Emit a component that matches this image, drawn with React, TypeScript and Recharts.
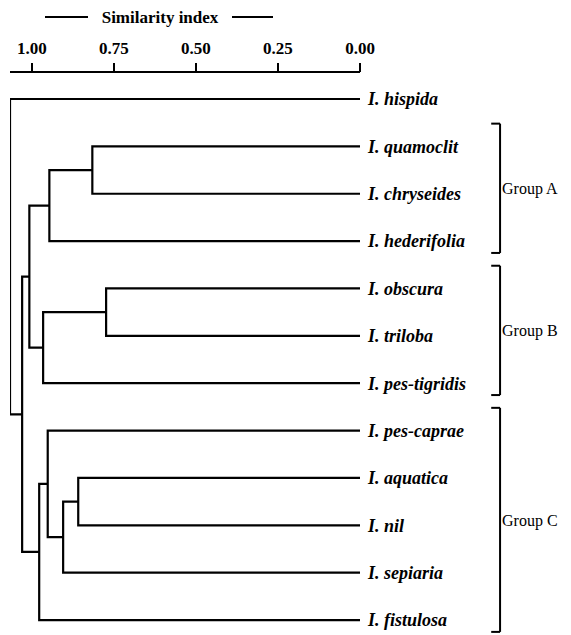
import { ScatterChart, Scatter, XAxis, YAxis, ReferenceLine } from 'recharts';

const leafNames = [
  'I. hispida',
  'I. quamoclit',
  'I. chryseides',
  'I. hederifolia',
  'I. obscura',
  'I. triloba',
  'I. pes-tigridis',
  'I. pes-caprae',
  'I. aquatica',
  'I. nil',
  'I. sepiaria',
  'I. fistulosa',
];

// linkage: ids below 12 are leaves, 12 + k is merge k
const mergeLeft = [1, 4, 8, 14, 12, 7, 13, 17, 16, 20, 0];
const mergeRight = [2, 5, 9, 10, 3, 15, 6, 11, 18, 19, 21];
const mergeSimilarity = [0.816, 0.774, 0.859, 0.905, 0.947, 0.952, 0.966, 0.978, 1.008, 1.03, 1.067];

const axisTicks = [1, 0.75, 0.5, 0.25, 0];

const groupNames = ['Group A', 'Group B', 'Group C'];
const groupFirstLeaf = [1, 4, 7];
const groupLastLeaf = [3, 6, 11];

const FONT = '"Liberation Serif", "Times New Roman", serif';
const INK = '#000';
const BRACKET_X = -0.427;
const SERIF_X = -0.4;

const nodeY: number[] = leafNames.map((_, i) => i);
const nodeH: number[] = leafNames.map(() => 0);
const links = mergeSimilarity.map((h, k) => {
  const a = mergeLeft[k];
  const b = mergeRight[k];
  nodeY.push((nodeY[a] + nodeY[b]) / 2);
  nodeH.push(h);
  return [
    { x: nodeH[a], y: nodeY[a] },
    { x: h, y: nodeY[a] },
    { x: h, y: nodeY[b] },
    { x: nodeH[b], y: nodeY[b] },
  ];
});

function SimilarityTitle() {
  return (
    <g>
      <line x1={45} x2={88} y1={17} y2={17} stroke={INK} strokeWidth={2} />
      <text x={160} y={23} textAnchor="middle" fontFamily={FONT} fontSize={17} fontWeight="bold" fill={INK}>
        Similarity index
      </text>
      <line x1={232} x2={273} y1={17} y2={17} stroke={INK} strokeWidth={2} />
    </g>
  );
}

export default function App() {
  return (
    <div style={{ position: 'absolute', left: 0, top: 0, background: '#fff' }}>
      <ScatterChart width={571} height={635} margin={{ top: 42, right: 71, left: 10, bottom: 5 }}>
        <XAxis
          type="number"
          dataKey="x"
          orientation="top"
          height={30}
          domain={[0, 1.067]}
          reversed
          allowDataOverflow
          ticks={axisTicks}
          interval={0}
          tickFormatter={(v: number) => v.toFixed(2)}
          tickSize={9}
          tickMargin={9}
          axisLine={{ stroke: INK, strokeWidth: 2 }}
          tickLine={{ stroke: INK, strokeWidth: 2 }}
          tick={{ fill: INK, fontSize: 17, fontWeight: 'bold', fontFamily: FONT }}
          label={<SimilarityTitle />}
        />
        <YAxis
          type="number"
          dataKey="y"
          orientation="right"
          width={140}
          domain={[-0.57, 11.21]}
          reversed
          allowDataOverflow
          ticks={leafNames.map((_, i) => i)}
          interval={0}
          tickFormatter={(i: number) => leafNames[i] ?? ''}
          tickSize={0}
          tickMargin={8}
          axisLine={false}
          tickLine={false}
          tick={{ fill: INK, fontSize: 18, fontWeight: 'bold', fontStyle: 'italic', fontFamily: FONT }}
        />
        {links.map((pts, k) => (
          <Scatter
            key={`link-${k}`}
            data={pts}
            line={{ stroke: INK, strokeWidth: 2.2 }}
            lineJointType="linear"
            shape={() => <g />}
            legendType="none"
            isAnimationActive={false}
          />
        ))}
        {groupNames.map((name, g) => {
          const top = groupFirstLeaf[g] - 0.48;
          const bottom = groupLastLeaf[g] + 0.25;
          return [
            <ReferenceLine
              key={`bracket-${g}`}
              segment={[{ x: BRACKET_X, y: top }, { x: BRACKET_X, y: bottom }]}
              ifOverflow="visible"
              stroke={INK}
              strokeWidth={2}
              label={{ value: name, position: 'right', offset: 2, fill: INK, fontSize: 16, fontFamily: FONT }}
            />,
            <ReferenceLine
              key={`top-${g}`}
              segment={[{ x: SERIF_X, y: top }, { x: BRACKET_X, y: top }]}
              ifOverflow="visible"
              stroke={INK}
              strokeWidth={2}
            />,
            <ReferenceLine
              key={`bottom-${g}`}
              segment={[{ x: SERIF_X, y: bottom }, { x: BRACKET_X, y: bottom }]}
              ifOverflow="visible"
              stroke={INK}
              strokeWidth={2}
            />,
          ];
        })}
      </ScatterChart>
    </div>
  );
}
